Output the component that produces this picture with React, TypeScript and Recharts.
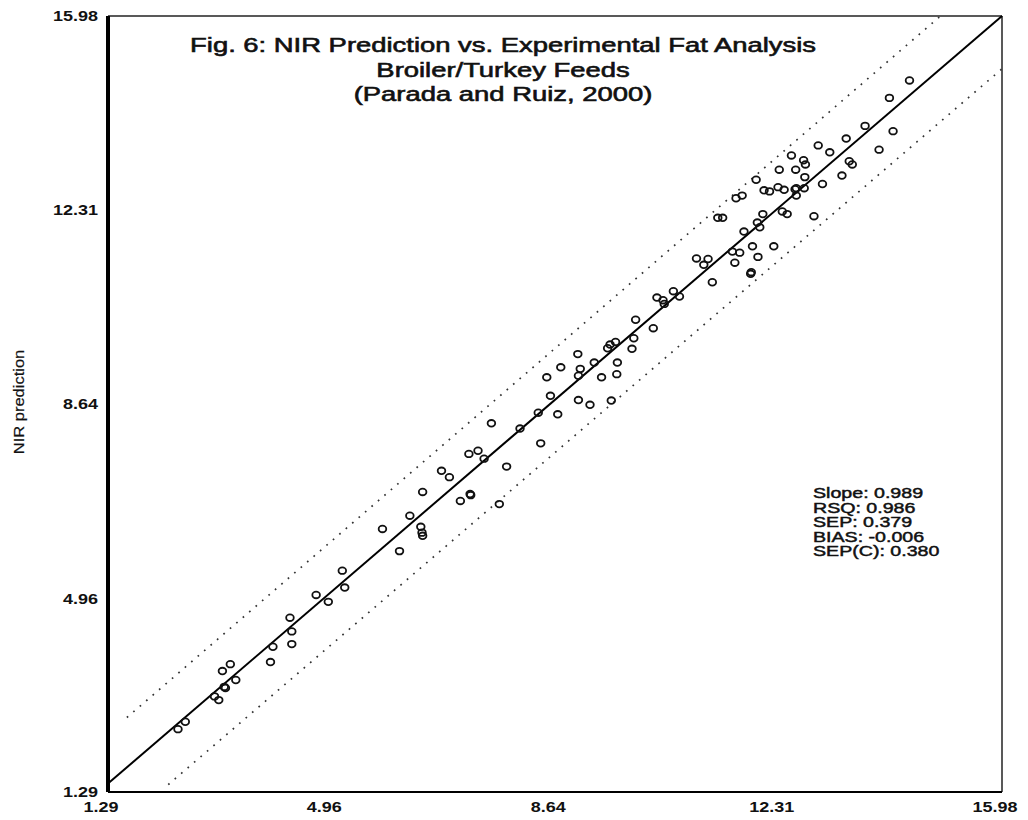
import React from "react";
import {
  ReferenceLine,
  Scatter,
  ScatterChart,
  XAxis,
  YAxis,
} from "recharts";

const FONT = "'Liberation Sans', Arial, sans-serif";

const AXIS_TICKS = [1.29, 4.96, 8.64, 12.31, 15.98];

const TITLE_LINES = [
  "Fig. 6: NIR Prediction vs. Experimental Fat Analysis",
  "Broiler/Turkey Feeds",
  "(Parada and Ruiz, 2000)",
];

const STATS = [
  "Slope: 0.989",
  "RSQ: 0.986",
  "SEP: 0.379",
  "BIAS: -0.006",
  "SEP(C): 0.380",
];

const EXPERIMENTAL = [
  2.44, 2.56, 3.04, 3.11, 3.2, 3.22, 3.17, 3.3, 3.39, 3.96, 4.0, 4.28, 4.31, 4.31,
  4.71, 4.91, 5.14, 5.18, 5.8, 6.08, 6.25, 6.43, 6.45, 6.46, 6.46, 6.77, 6.9, 7.08,
  7.24, 7.25, 7.22, 7.37, 7.47, 7.59, 7.72, 7.84, 8.06, 8.36, 8.4, 8.68, 9.02, 9.21,
  9.56, 8.56, 8.5, 8.73, 9.01, 9.02, 9.05, 9.28, 9.4, 9.65, 9.66, 9.5, 9.54, 9.63,
  9.9, 9.93, 9.96, 10.25, 10.31, 10.41, 10.43, 10.58, 10.68, 10.96, 11.08, 11.15,
  11.22, 11.55, 11.67, 11.59, 11.85, 11.86, 11.97, 11.88, 12.23, 11.74, 11.96, 12.0,
  12.05, 12.37, 12.45, 12.89, 11.31, 11.39, 11.61, 11.71, 11.94, 12.07, 12.16, 12.3,
  12.4, 12.58, 12.6, 12.6, 12.73, 12.74, 12.32, 12.59, 12.52, 12.72, 12.75, 12.96,
  13.15, 13.03, 13.35, 13.42, 13.47, 13.52, 13.73, 13.96, 14.19, 14.13, 14.46,
];

const NIR_PREDICTION = [
  2.48, 2.62, 3.1, 3.03, 3.28, 3.26, 3.58, 3.71, 3.41, 3.75, 4.04, 4.59, 4.33, 4.09,
  5.02, 4.89, 5.48, 5.16, 6.27, 5.85, 6.52, 6.31, 6.2, 6.14, 6.97, 7.37, 7.25, 6.8,
  6.93, 6.91, 7.69, 7.75, 7.6, 8.27, 6.74, 7.45, 8.17, 8.47, 7.89, 8.44, 8.71, 8.62,
  8.7, 8.79, 9.14, 9.33, 9.58, 9.17, 9.3, 9.42, 9.14, 9.2, 9.42, 9.69, 9.76, 9.81,
  9.68, 9.88, 10.23, 10.07, 10.65, 10.6, 10.53, 10.77, 10.67, 11.39, 11.27, 11.38,
  10.94, 11.52, 11.5, 11.31, 11.1, 11.13, 11.42, 11.62, 11.62, 11.9, 12.07, 11.98,
  12.23, 12.28, 12.23, 12.19, 12.16, 12.16, 12.53, 12.58, 12.88, 12.68, 12.66, 12.74,
  12.69, 12.7, 12.72, 12.58, 12.72, 12.93, 13.07, 13.07, 13.34, 13.25, 13.17, 13.53,
  13.4, 12.8, 12.96, 13.66, 13.23, 13.17, 13.9, 13.45, 13.8, 14.43, 14.76,
];

const FIT_LINE = [
  { x: 1.29, y: 1.45 },
  { x: 15.98, y: 15.98 },
];
const UPPER_LIMIT = [
  { x: 1.6, y: 2.7 },
  { x: 14.97, y: 15.98 },
];
const LOWER_LIMIT = [
  { x: 2.28, y: 1.43 },
  { x: 15.98, y: 14.98 },
];

const points = EXPERIMENTAL.map((x, i) => ({ x, y: NIR_PREDICTION[i] }));

function XTick({ x, y, payload }: any) {
  return (
    <g transform={`translate(${x - 7},${y})`}>
      <text
        transform="scale(1.2,1)"
        textAnchor="middle"
        dy={20}
        fontFamily={FONT}
        fontWeight={700}
        fontSize={15}
        fill="#111"
      >
        {payload.value}
      </text>
    </g>
  );
}

function YTick({ x, y, payload }: any) {
  return (
    <g transform={`translate(${x - 10},${y})`}>
      <text
        transform="scale(1.2,1)"
        textAnchor="end"
        dy={5.4}
        fontFamily={FONT}
        fontWeight={700}
        fontSize={15}
        fill="#111"
      >
        {payload.value}
      </text>
    </g>
  );
}

function Marker({ cx, cy }: any) {
  return <ellipse cx={cx} cy={cy} rx={3.8} ry={3.3} fill="none" stroke="#111" strokeWidth={1.8} />;
}

export default function App() {
  return (
    <div style={{ position: "absolute", left: 0, top: 0, width: 1028, height: 820, background: "#fff" }}>
      <ScatterChart width={1028} height={820} margin={{ top: 16, right: 26, bottom: 0, left: 0 }}>
        <XAxis
          type="number"
          dataKey="x"
          domain={[1.29, 15.98]}
          ticks={AXIS_TICKS}
          allowDataOverflow
          height={28}
          tickSize={0}
          tickMargin={0}
          tickLine={false}
          axisLine={{ stroke: "#000", strokeWidth: 2 }}
          tick={<XTick />}
          interval={0}
        />
        <YAxis
          type="number"
          dataKey="y"
          domain={[1.29, 15.98]}
          ticks={AXIS_TICKS}
          allowDataOverflow
          width={108}
          tickSize={0}
          tickMargin={0}
          tickLine={false}
          axisLine={{ stroke: "#000", strokeWidth: 4 }}
          tick={<YTick />}
          interval={0}
        />
        <ReferenceLine y={15.98} stroke="#222" strokeWidth={1.5} />
        <ReferenceLine x={15.98} stroke="#222" strokeWidth={1.5} />
        <ReferenceLine segment={UPPER_LIMIT} stroke="#333" strokeWidth={1.7} strokeDasharray="1.7 6.8" />
        <ReferenceLine segment={LOWER_LIMIT} stroke="#333" strokeWidth={1.7} strokeDasharray="1.7 6.8" />
        <ReferenceLine segment={FIT_LINE} stroke="#000" strokeWidth={2} />
        <Scatter data={points} shape={<Marker />} isAnimationActive={false} />
      </ScatterChart>

      <div
        style={{
          position: "absolute",
          left: 0,
          top: 33,
          width: 1006,
          textAlign: "center",
          fontFamily: FONT,
          fontSize: 20,
          lineHeight: "24.5px",
          color: "#111",
          WebkitTextStroke: "0.6px #111",
        }}
      >
        {TITLE_LINES.map((line) => (
          <div key={line} style={{ transform: "scaleX(1.37)" }}>
            {line}
          </div>
        ))}
      </div>

      <div
        style={{
          position: "absolute",
          left: 813,
          top: 486,
          fontFamily: FONT,
          fontSize: 14,
          lineHeight: "14.5px",
          color: "#111",
          WebkitTextStroke: "0.45px #111",
          transform: "scaleX(1.4)",
          transformOrigin: "left top",
          whiteSpace: "nowrap",
        }}
      >
        {STATS.map((s) => (
          <div key={s}>{s}</div>
        ))}
      </div>

      <div
        style={{
          position: "absolute",
          left: 19 - 100,
          top: 402 - 9,
          width: 200,
          height: 18,
          lineHeight: "18px",
          textAlign: "center",
          fontFamily: FONT,
          fontSize: 15,
          color: "#111",
          WebkitTextStroke: "0.2px #111",
          transform: "rotate(-90deg) scaleX(1.1)",
          whiteSpace: "nowrap",
        }}
      >
        NIR prediction
      </div>
    </div>
  );
}
